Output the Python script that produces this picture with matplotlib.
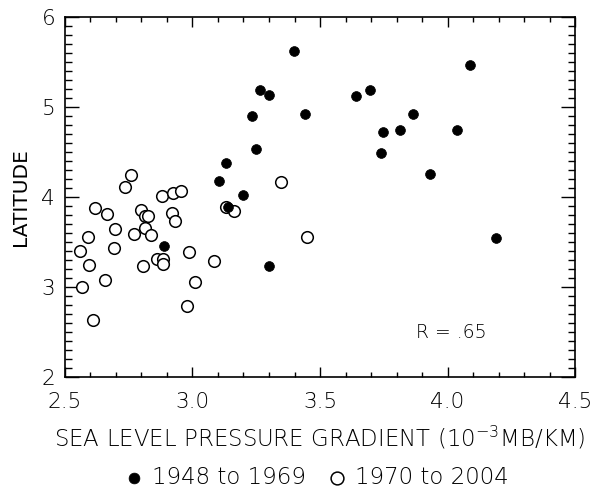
import matplotlib
matplotlib.use('Agg')
import matplotlib.pyplot as plt
from matplotlib.ticker import MultipleLocator

# 1948 to 1969 (filled)
x_early = [3.398, 3.266, 3.299, 3.233, 3.442, 3.248, 3.131, 3.105, 3.199, 3.141,
           3.299, 2.887, 3.640, 3.696, 4.089, 3.865, 3.746, 3.815, 4.037, 3.740,
           3.932, 4.190]
y_early = [5.619, 5.189, 5.130, 4.893, 4.919, 4.533, 4.370, 4.174, 4.016, 3.889,
           3.227, 3.452, 5.122, 5.182, 5.463, 4.916, 4.719, 4.744, 4.744, 4.486,
           4.249, 3.541]

# 1970 to 2004 (open)
x_late = [2.760, 2.735, 2.618, 2.665, 2.589, 2.559, 2.593, 2.568, 2.610, 2.658,
          2.692, 2.695, 2.769, 2.799, 2.815, 2.827, 2.815, 2.839, 2.805, 2.860,
          2.883, 2.883, 2.882, 2.925, 2.955, 2.921, 2.933, 2.985, 3.009, 2.977,
          3.086, 3.130, 3.164, 3.348, 3.449]
y_late = [4.245, 4.111, 3.878, 3.811, 3.552, 3.397, 3.241, 3.000, 2.633, 3.074,
          3.426, 3.637, 3.586, 3.852, 3.789, 3.789, 3.656, 3.578, 3.226, 3.304,
          3.304, 3.248, 4.008, 4.038, 4.063, 3.816, 3.733, 3.386, 3.049, 2.786,
          3.286, 3.889, 3.837, 4.159, 3.556]

x_ticks = [2.5, 3.0, 3.5, 4.0, 4.5]
y_ticks = [2, 3, 4, 5, 6]
r_text = 'R = .65'


def main():
    plt.rcParams['font.weight'] = 'light'
    plt.rcParams['mathtext.fontset'] = 'custom'
    plt.rcParams['mathtext.rm'] = 'DejaVu Sans:light'
    plt.rcParams['mathtext.it'] = 'DejaVu Sans:light'
    plt.rcParams['mathtext.default'] = 'rm'

    fig = plt.figure(figsize=(6.01, 4.88), dpi=100)
    ax = fig.add_axes([0.108, 0.228, 0.849, 0.738])

    h1 = ax.scatter(x_early, y_early, s=50, c='black', edgecolors='black',
                    linewidths=0.5, zorder=3)
    h2 = ax.scatter(x_late, y_late, s=70, facecolors='white', edgecolors='black',
                    linewidths=1.1, zorder=2)

    ax.set_xlim(2.5, 4.5)
    ax.set_ylim(2, 6)
    ax.set_xticks(x_ticks)
    ax.set_xticklabels(['%.1f' % v for v in x_ticks])
    ax.set_yticks(y_ticks)
    ax.xaxis.set_minor_locator(MultipleLocator(0.1))
    ax.yaxis.set_minor_locator(MultipleLocator(0.1))
    ax.tick_params(axis='x', which='major', direction='in', length=7.5, width=1,
                   top=True, labelsize=15.5, pad=11)
    ax.tick_params(axis='x', which='minor', direction='in', length=3.5, width=1, top=True)
    ax.tick_params(axis='y', which='major', direction='in', length=10, width=1,
                   right=True, labelsize=15.5, pad=7)
    ax.tick_params(axis='y', which='minor', direction='in', length=5, width=1, right=True)
    for s in ax.spines.values():
        s.set_linewidth(1.2)

    ax.text(3.876, 2.486, r_text, fontsize=13.5, va='center', ha='left')
    ax.set_xlabel(r'$\mathrm{SEA\ LEVEL\ PRESSURE\ GRADIENT\ (10^{-3}MB/KM)}$',
                  fontsize=16.5, labelpad=9)
    ax.set_ylabel('LATITUDE', fontsize=14.5, labelpad=8)

    fig.legend([h1, h2], ['1948 to 1969', '1970 to 2004'], loc='center',
               bbox_to_anchor=(0.525, 0.021), ncol=2, frameon=False, fontsize=16.5,
               handlelength=1.0, handletextpad=0.3, columnspacing=0.85,
               borderpad=0.1, markerscale=1.1)

    fig.savefig('out.png', dpi=100)


if __name__ == '__main__':
    main()
